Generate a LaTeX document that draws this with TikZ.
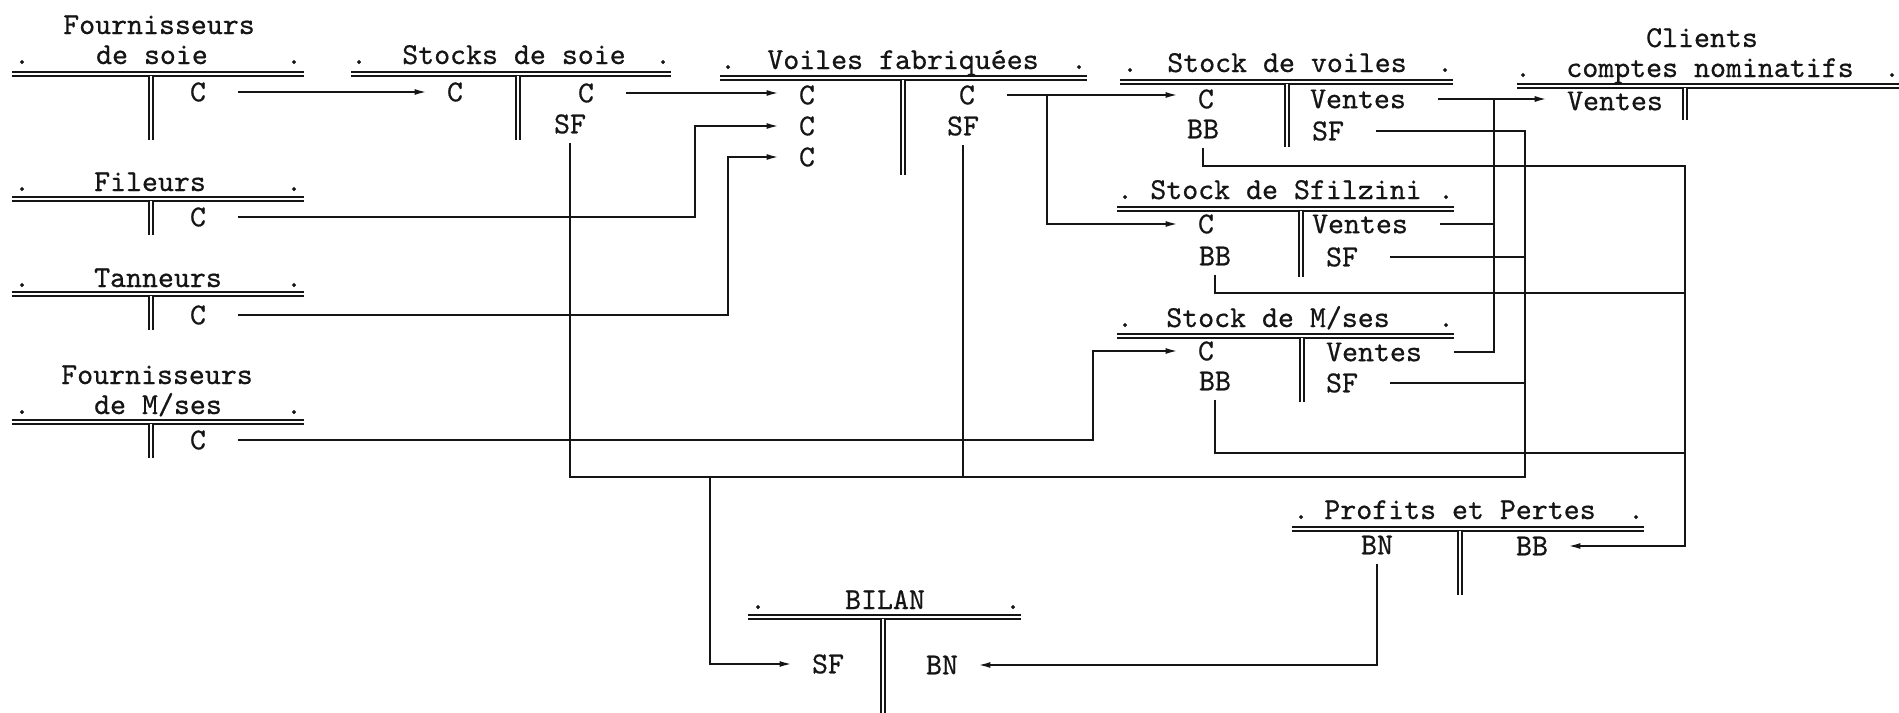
\documentclass[tikz,border=0pt]{standalone}
\usepackage{fontspec}
\usepackage{tikz}
\usetikzlibrary{arrows.meta}
\newfontfamily\typefont{lmmono10-regular.otf}[FakeBold=0.6]
\definecolor{clrink}{HTML}{151515}
\definecolor{clrpaper}{HTML}{FFFFFF}

\begin{document}
\begin{tikzpicture}[
    x=0.5pt, y=-0.5pt,
    >={Latex[length=6pt, width=3pt]},
    every node/.style={font=\fontsize{15.2pt}{18pt}\selectfont\typefont, inner sep=0pt, text=clrink},
    title/.style={anchor=base},
    dotmark/.style={anchor=base},
    entry/.style={anchor=center},
    rule/.style={draw=clrink, line width=0.9pt, double=clrpaper, double distance=1.1pt},
    bar/.style={draw=clrink, line width=0.9pt, double=clrpaper, double distance=1.1pt},
    link/.style={draw=clrink, line width=0.9pt},
    arrow/.style={->, draw=clrink, line width=0.9pt, shorten >=10pt},
    gapstart/.style={shorten <=16pt},
    gapbelow/.style={shorten <=4.5pt},
    gapend/.style={shorten >=4.5pt},
]
\useasboundingbox[fill=clrpaper] (0,0) rectangle (1899,712);
% comptes de gauche
\node[title] (fsoie_t1) at (159,34) {Fournisseurs};
\node[title] (fsoie_t2) at (152,64) {de soie};
\node[dotmark] (fsoie_d1) at (22,64) {.};
\node[dotmark] (fsoie_d2) at (294,64) {.};
\draw[rule] (12,74) -- (304,74);
\draw[bar] (151,76) -- (151,140);
\node[entry] (fsoie_c) at (198,92) {C};
\node[title] (fil_t) at (150,191) {Fileurs};
\node[dotmark] (fil_d1) at (22,191) {.};
\node[dotmark] (fil_d2) at (294,191) {.};
\draw[rule] (12,199) -- (304,199);
\draw[bar] (151,201) -- (151,235);
\node[entry] (fil_c) at (198,217) {C};
\node[title] (tan_t) at (158,287) {Tanneurs};
\node[dotmark] (tan_d1) at (22,287) {.};
\node[dotmark] (tan_d2) at (294,287) {.};
\draw[rule] (12,294) -- (304,294);
\draw[bar] (151,296) -- (151,330);
\node[entry] (tan_c) at (198,315) {C};
\node[title] (fmses_t1) at (157,384) {Fournisseurs};
\node[title] (fmses_t2) at (158,414) {de M/ses};
\node[dotmark] (fmses_d1) at (22,414) {.};
\node[dotmark] (fmses_d2) at (294,414) {.};
\draw[rule] (12,422) -- (304,422);
\draw[bar] (151,424) -- (151,458);
\node[entry] (fmses_c) at (198,440) {C};
% stocks et fabrication
\node[title] (ssoie_t) at (514,64) {Stocks de soie};
\node[dotmark] (ssoie_d1) at (359,64) {.};
\node[dotmark] (ssoie_d2) at (663,64) {.};
\draw[rule] (351,74) -- (671,74);
\draw[bar] (518,76) -- (518,140);
\node[entry] (ssoie_c1) at (455,92) {C};
\node[entry] (ssoie_c2) at (586,93) {C};
\node[entry] (ssoie_sf) at (570,124) {SF};
\node[title] (voiles_t) at (903,69) {Voiles fabriquées};
\node[dotmark] (voiles_d1) at (728,69) {.};
\node[dotmark] (voiles_d2) at (1079,69) {.};
\draw[rule] (720,78) -- (1087,78);
\draw[bar] (903,80) -- (903,175);
\node[entry] (voiles_c1) at (807,95) {C};
\node[entry] (voiles_c2) at (807,126) {C};
\node[entry] (voiles_c3) at (807,157) {C};
\node[entry] (voiles_c) at (967,95) {C};
\node[entry] (voiles_sf) at (963,126) {SF};
\node[title] (svoiles_t) at (1287,72) {Stock de voiles};
\node[dotmark] (svoiles_d1) at (1130,72) {.};
\node[dotmark] (svoiles_d2) at (1445,72) {.};
\draw[rule] (1120,82) -- (1453,82);
\draw[bar] (1287,84) -- (1287,147);
\node[entry] (svoiles_c) at (1206,99) {C};
\node[entry] (svoiles_ventes) at (1358,99) {Ventes};
\node[entry] (svoiles_bb) at (1203,129) {BB};
\node[entry] (svoiles_sf) at (1328,131) {SF};
\node[title] (sfil_t) at (1286,199) {Stock de Sfilzini};
\node[dotmark] (sfil_d1) at (1125,199) {.};
\node[dotmark] (sfil_d2) at (1446,199) {.};
\draw[rule] (1117,209) -- (1454,209);
\draw[bar] (1301,211) -- (1301,277);
\node[entry] (sfil_c) at (1206,224) {C};
\node[entry] (sfil_ventes) at (1360,224) {Ventes};
\node[entry] (sfil_bb) at (1215,256) {BB};
\node[entry] (sfil_sf) at (1342,257) {SF};
\node[title] (smses_t) at (1278,327) {Stock de M/ses};
\node[dotmark] (smses_d1) at (1125,327) {.};
\node[dotmark] (smses_d2) at (1446,327) {.};
\draw[rule] (1117,336) -- (1454,336);
\draw[bar] (1302,338) -- (1302,402);
\node[entry] (smses_c) at (1206,351) {C};
\node[entry] (smses_ventes) at (1374,352) {Ventes};
\node[entry] (smses_bb) at (1215,381) {BB};
\node[entry] (smses_sf) at (1342,383) {SF};
% clients, resultat, bilan
\node[title] (clients_t1) at (1702,47) {Clients};
\node[title] (clients_t2) at (1710,77) {comptes nominatifs};
\node[dotmark] (clients_d1) at (1523,77) {.};
\node[dotmark] (clients_d2) at (1892,77) {.};
\draw[rule] (1517,86) -- (1899,86);
\draw[bar] (1685,88) -- (1685,120);
\node[entry] (clients_ventes) at (1615,101) {Ventes};
\node[title] (pp_t) at (1460,519) {Profits et Pertes};
\node[dotmark] (pp_d1) at (1301,519) {.};
\node[dotmark] (pp_d2) at (1636,519) {.};
\draw[rule] (1292,529) -- (1644,529);
\draw[bar] (1460,531) -- (1460,595);
\node[entry] (pp_bn) at (1377,545) {BN};
\node[entry] (pp_bb) at (1532,546) {BB};
\node[title] (bilan_t) at (885,609) {BILAN};
\node[dotmark] (bilan_d1) at (758,609) {.};
\node[dotmark] (bilan_d2) at (1013,609) {.};
\draw[rule] (748,617) -- (1021,617);
\draw[bar] (883,619) -- (883,714);
\node[entry] (bilan_sf) at (828,664) {SF};
\node[entry] (bilan_bn) at (942,665) {BN};
% points de jonction
\coordinate (col_ventes) at (1494,99);
\coordinate (col_sf) at (1525,477);
\coordinate (col_bb) at (1685,165);
\coordinate (emb_bilan) at (710,477);
% liaisons
\draw[arrow, gapstart] (fsoie_c.east) -- (ssoie_c1.west);
\draw[arrow, gapstart] (ssoie_c2.east) -- (ssoie_c2.east -| voiles_c1.west);
\draw[arrow, gapstart] (fil_c.east) -- ++(489,0) |- (voiles_c2.west);
\draw[arrow, gapstart] (tan_c.east) -- ++(522,0) |- (voiles_c3.west);
\draw[arrow, gapstart] (fmses_c.east) -- ++(887,0) |- (smses_c.west);
\draw[arrow, gapstart] (voiles_c.east) -- (voiles_c.east -| svoiles_c.west);
\draw[arrow] (voiles_c.east) ++(72,0) |- (sfil_c.west);
\draw[arrow, gapstart] (svoiles_ventes.east) -- (svoiles_ventes.east -| clients_ventes.west);
\draw[link, gapstart] (sfil_ventes.east) -- (sfil_ventes.east -| col_ventes);
\draw[link, gapstart] (smses_ventes.east) -| (col_ventes);
\draw[link, gapstart, gapend] (svoiles_sf.east) -| (col_sf) -| (ssoie_sf.south);
\draw[link, gapstart] (sfil_sf.east) -- (sfil_sf.east -| col_sf);
\draw[link, gapstart] (smses_sf.east) -- (smses_sf.east -| col_sf);
\draw[link, gapbelow] (voiles_sf.south) -- (voiles_sf.south |- col_sf);
\draw[arrow] (emb_bilan) |- (bilan_sf.west);
\draw[arrow, gapbelow] (svoiles_bb.south) -- ++(0,27) -| (col_bb) |- (pp_bb.east);
\draw[link, gapbelow] (sfil_bb.south) -- ++(0,27) -| (col_bb);
\draw[link, gapbelow] (smses_bb.south) -- ++(0,62) -| (col_bb);
\draw[arrow, gapbelow] (pp_bn.south) |- (bilan_bn.east);
\end{tikzpicture}
\end{document}
